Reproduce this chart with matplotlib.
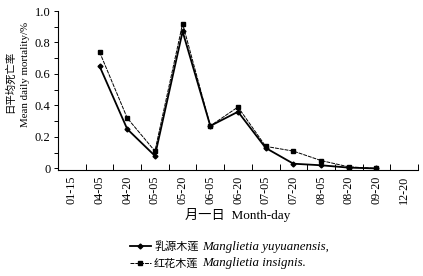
import matplotlib.pyplot as plt
from matplotlib.ticker import MultipleLocator, FixedLocator

plt.rcParams['font.family'] = ['Liberation Serif', 'Noto Sans CJK SC']

# Dates (month-day) on the category axis
dates = ["01-15", "04-05", "04-20", "05-05", "05-20", "06-05", "06-20",
         "07-05", "07-20", "08-05", "08-20", "09-20", "12-20"]

# Mean daily mortality (%) per species, starting at 04-05
yuyuanensis = [0.65, 0.25, 0.08, 0.87, 0.27, 0.36, 0.13, 0.03, 0.02, 0.005, 0.0]
insignis = [0.74, 0.32, 0.11, 0.92, 0.27, 0.39, 0.14, 0.11, 0.05, 0.01, 0.0]
start = 1

names_cn = ["乳源木莲", "红花木莲"]
names_lat = ["Manglietia yuyuanensis,", "Manglietia insignis."]

fig = plt.figure(figsize=(4.23, 2.76), dpi=100)
ax = fig.add_axes([58 / 423, 1 - 170 / 276, 360 / 423, 159 / 276])

x1 = list(range(start, start + len(yuyuanensis)))
x2 = list(range(start, start + len(insignis)))
l1, = ax.plot(x1, yuyuanensis, color='black', linewidth=1.3, marker='D',
              markersize=2.5)
l2, = ax.plot(x2, insignis, color='black', linewidth=0.7, marker='s',
              markersize=3.5, linestyle=(0, (4, 1)))

ax.set_xlim(-0.5, len(dates) - 0.5)
ax.set_ylim(-0.01, 1.0)
ax.xaxis.set_major_locator(FixedLocator([i + 0.5 for i in range(len(dates))]))
ax.xaxis.set_minor_locator(FixedLocator(list(range(len(dates)))))
ax.set_xticklabels([])
ax.set_xticklabels(dates, minor=True, rotation=90, fontsize=8.7)
ax.tick_params(axis='x', which='minor', length=0, pad=4)
ax.tick_params(axis='x', which='major', length=4, direction='in', width=0.7)

ax.yaxis.set_major_locator(MultipleLocator(0.2))
ax.yaxis.set_minor_locator(MultipleLocator(0.1))
ax.set_yticks([0, 0.2, 0.4, 0.6, 0.8, 1.0])
ax.set_yticklabels(['0', '0.2', '0.4', '0.6', '0.8', '1.0'], fontsize=9)
ax.tick_params(axis='y', which='both', length=3, direction='out', width=0.7,
               pad=2.5)

for s in ['top', 'right']:
    ax.spines[s].set_visible(False)
for s in ['left', 'bottom']:
    ax.spines[s].set_linewidth(0.8)

ax.set_xlabel('月一日  Month-day', fontsize=9.5, labelpad=3)

# two-line y label
fig.text(10 / 423, 1 - 82 / 276, '日平均死亡率', rotation=90, fontsize=7.5,
         ha='center', va='center')
fig.text(26 / 423, 1 - 74 / 276, 'Mean daily mortality/%', rotation=90,
         fontsize=7.8, ha='center', va='center')

leg = fig.legend(handles=[l1, l2], labels=names_cn, loc='center left',
                 bbox_to_anchor=(124 / 423, 1 - 255 / 276), frameon=False,
                 fontsize=8, handlelength=1.9, handletextpad=0.3,
                 labelspacing=0.55, borderpad=0)

# italic latin names after the chinese labels
fig.canvas.draw()
r = fig.canvas.get_renderer()
inv = fig.transFigure.inverted()
for t, lat in zip(leg.get_texts(), names_lat):
    bb = t.get_window_extent(r)
    x0, y0 = inv.transform((bb.x1 + 4, (bb.y0 + bb.y1) / 2))
    fig.text(x0, y0, lat, style='italic', fontsize=9.3, ha='left', va='center')

plt.savefig('out.png', dpi=100)
